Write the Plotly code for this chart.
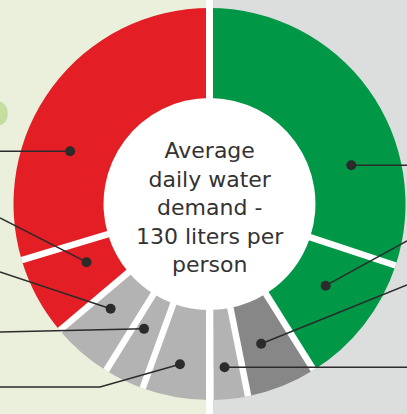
import math
import plotly.graph_objects as go

# ---------------- data ----------------
categories = ["Category 1", "Category 2", "Category 3", "Category 4", "Category 5",
              "Category 6", "Category 7", "Category 8", "Category 9"]
liters = [39.1, 14.3, 7.5, 4.0, 7.3, 4.3, 6.5, 8.5, 38.5]   # liters per person per day (sum 130)
center_text = ["Average", "daily water", "demand -", "130 liters per", "person"]

# ---------------- styling / layout ----------------
slice_colors = ["#009846", "#009846", "#878787", "#b3b3b3", "#b3b3b3",
                "#b3b3b3", "#b3b3b3", "#e31e25", "#e31e25"]
# where along each slice (fraction of its angle) and at what radius the marker dot sits
dot_t = [0.69, 0.425, 0.57, 0.55, 0.53, 0.65, 0.64, 0.63, 0.35]
dot_r = [147, 142, 149, 164, 163, 141, 144, 136, 149]
# leader-line end points (pixels); None -> horizontal to the edge
leader_side = ["R", "R", "R", "R", "L", "L", "L", "L", "L"]
leader_end_y = [None, 241, 285, None, 387, 332, 272, 218, None]
leader_kink_x = [None, None, None, None, 100, None, None, None, None]

W, H = 407, 414
CX, CY = 209.5, 204.0
R_OUT, R_IN = 196.0, 106.0
BG_LEFT, BG_RIGHT = "#ebf0dc", "#dcdddd"
INK = "#2b2b2b"


def px(x):
    return x / W


def py(y):
    return 1 - y / H


def polar(angle_deg, r):
    a = math.radians(angle_deg)
    return CX + r * math.sin(a), CY - r * math.cos(a)


fig = go.Figure(go.Pie(
    labels=categories, values=liters, sort=False, direction="clockwise", rotation=0,
    hole=R_IN / R_OUT,
    marker=dict(colors=slice_colors, line=dict(width=0)),
    textinfo="none", hoverinfo="label+value", showlegend=False,
    domain=dict(x=[px(CX - R_OUT), px(CX + R_OUT)], y=[py(CY + R_OUT), py(CY - R_OUT)]),
))

shapes = []
# background halves
shapes.append(dict(type="rect", xref="paper", yref="paper", x0=0, x1=px(CX), y0=0, y1=1,
                   fillcolor=BG_LEFT, line=dict(width=0), layer="below"))
shapes.append(dict(type="rect", xref="paper", yref="paper", x0=px(CX), x1=1, y0=0, y1=1,
                   fillcolor=BG_RIGHT, line=dict(width=0), layer="below"))
# white hole
shapes.append(dict(type="circle", xref="paper", yref="paper",
                   x0=px(CX - R_IN), x1=px(CX + R_IN), y0=py(CY + R_IN), y1=py(CY - R_IN),
                   fillcolor="white", line=dict(width=0), layer="below"))

total = sum(liters)
starts = []
acc = 0.0
for v in liters:
    starts.append(acc / total * 360)
    acc += v

# white gaps between slices
for s in starts[1:]:
    x0, y0 = polar(s, R_IN - 2)
    x1, y1 = polar(s, R_OUT)
    shapes.append(dict(type="line", xref="paper", yref="paper",
                       x0=px(x0), y0=py(y0), x1=px(x1), y1=py(y1),
                       line=dict(color="white", width=6.5), layer="above"))
# central white divider
shapes.append(dict(type="line", xref="paper", yref="paper", x0=px(CX), x1=px(CX), y0=0, y1=1,
                   line=dict(color="white", width=7), layer="above"))

# leader lines + dots
for i, v in enumerate(liters):
    ang = starts[i] + dot_t[i] * v / total * 360
    dx, dy = polar(ang, dot_r[i])
    ex = W if leader_side[i] == "R" else 0
    ey = dy if leader_end_y[i] is None else leader_end_y[i]
    if leader_kink_x[i] is not None:
        path = f"M{px(dx)},{py(dy)} L{px(leader_kink_x[i])},{py(ey)} L{px(ex)},{py(ey)}"
    else:
        path = f"M{px(dx)},{py(dy)} L{px(ex)},{py(ey)}"
    shapes.append(dict(type="path", xref="paper", yref="paper", path=path,
                       line=dict(color=INK, width=1.5), layer="above"))
    rr = 5
    shapes.append(dict(type="circle", xref="paper", yref="paper",
                       x0=px(dx - rr), x1=px(dx + rr), y0=py(dy + rr), y1=py(dy - rr),
                       fillcolor=INK, line=dict(width=0), layer="above"))

annotations = [
    dict(text="<br>".join(center_text), x=px(CX), y=py(207), xref="paper", yref="paper",
         xanchor="center", yanchor="middle", showarrow=False,
         font=dict(family="DejaVu Sans", size=22, color="#333333")),
    dict(text="<b>o</b>", x=px(12), y=py(110), xref="paper", yref="paper",
         xanchor="right", yanchor="middle", showarrow=False,
         font=dict(family="DejaVu Sans", size=46, color="#c5de9e")),
]

fig.update_layout(
    width=W, height=H, margin=dict(l=0, r=0, t=0, b=0),
    paper_bgcolor=BG_LEFT, plot_bgcolor=BG_LEFT,
    shapes=shapes, annotations=annotations, showlegend=False,
)

fig.write_html("out.html", config={"displayModeBar": False},
               post_script="document.body.style.margin='0';")
